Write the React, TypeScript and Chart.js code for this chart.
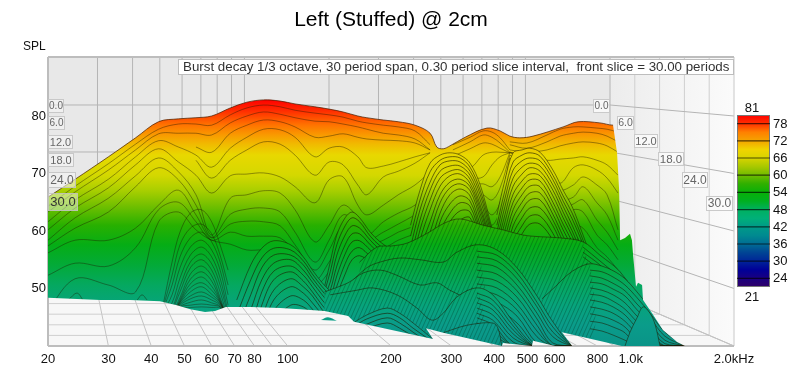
import React, { useEffect, useRef } from "react";
import { Chart, registerables } from "chart.js";

Chart.register(...registerables);

const xTickValues = [20, 30, 40, 50, 60, 70, 80, 100, 200, 300, 400, 500, 600, 800, 1000, 2000];
const xTickNames = ["20", "30", "40", "50", "60", "70", "80", "100", "200", "300", "400", "500", "600", "800", "1.0k", "2.0kHz"];
const yTickValues = [50, 60, 70, 80];
const wallFreqs = [30, 40, 50, 60, 70, 80, 90, 100, 200, 300, 400, 500, 600, 700, 800, 900, 1000];
const wallLevels = [50, 60, 70, 80];
const floorDepths = [0.2, 0.4, 0.6, 0.8];
const sliceNames = ["0.0", "6.0", "12.0", "18.0", "24.0", "30.0"];
const barLevels = [78, 72, 66, 60, 54, 48, 42, 36, 30, 24];

const surfaceStopSpl = [82.8, 81, 78.4, 76.7, 75, 73.2, 69.7, 67.1, 64.5, 61, 57.6, 54.1, 50.6, 47.1, 43.7, 40];
const surfaceStopColors = ["#ff0000", "#ff2a00", "#ff7400", "#f99a00", "#f0bc00", "#e8d800", "#d4d800", "#aacf00", "#74c000", "#28b000", "#05ad15", "#03aa38", "#05a860", "#07a47c", "#0a9c8a", "#0a9488"];
const barStopSpl = [81, 78, 75, 72, 69, 66, 63, 60, 57, 54, 51, 48, 45, 42, 39, 36, 33, 30, 27, 24, 21];
const barStopColors = ["#ff0000", "#ff3000", "#ff8000", "#f4a400", "#f0d400", "#d8d400", "#a8c800", "#70bc00", "#30b000", "#08b008", "#00b020", "#00b060", "#00b078", "#009a88", "#008a90", "#006c94", "#004494", "#002498", "#000098", "#1a0080", "#300068"];

// ridge at the back of the plot
const ridgeFreqs = [20, 24, 30, 36, 42, 48, 54, 60, 68, 76, 85, 95, 105, 120, 132, 145, 160, 170, 190, 210, 235, 260];
const ridgeTop = [65.9, 69.0, 72.9, 76.2, 79.0, 79.5, 79.7, 80.0, 81.4, 82.4, 82.8, 82.6, 82.1, 81.6, 81.2, 80.7, 80.0, 79.7, 79.3, 79.0, 78.4, 77.0];
const ridgeTailFreqs = [272, 284, 297, 329, 381, 416, 444, 475, 519, 635, 702, 813, 888, 1592];
const ridgeTailTop = [74.6, 74.3, 74.8, 76.3, 77.9, 77.4, 76.5, 76.2, 76.5, 78.1, 79.0, 78.8, 78.4, 78.4];

const sliceA1 = [64.3, 67.8, 71.7, 75.1, 77.7, 78.6, 78.6, 78.4, 80.2, 81.4, 81.9, 81.6, 81.0, 80.5, 80.2, 79.8, 79.1, 78.8, 78.4, 78.1, 77.4, 75.0];
const sliceA2 = [63.3, 66.8, 70.6, 74.1, 76.9, 77.0, 77.0, 76.7, 78.8, 80.0, 80.7, 80.3, 79.7, 79.1, 79.0, 78.6, 78.1, 77.7, 77.0, 76.7, 76.0, 74.1];
const sliceA3 = [61.6, 65.4, 69.0, 72.9, 75.7, 74.6, 73.2, 71.1, 74.4, 76.3, 77.7, 77.6, 76.3, 72.9, 74.4, 74.6, 72.9, 71.0, 71.3, 72.0, 72.9, 73.6];
const sliceA4 = [60.2, 64.0, 67.5, 71.5, 74.3, 72.0, 69.7, 66.6, 69.6, 69.9, 70.1, 69.4, 67.7, 64.9, 68.9, 69.4, 64.5, 62.8, 64.5, 66.3, 68.0, 70.3];
const sliceA5 = [58.4, 62.3, 65.7, 69.6, 72.7, 70.3, 66.3, 59.3, 65.7, 66.3, 67.0, 66.6, 63.7, 58.1, 61.0, 64.5, 62.3, 59.3, 61.6, 63.1, 64.5, 67.1];
const sliceA6 = [57.4, 60.5, 63.3, 67.7, 71.0, 68.9, 64.5, 58.9, 62.9, 63.8, 64.0, 63.3, 59.8, 54.6, 58.4, 62.8, 61.0, 58.4, 59.8, 61.2, 62.8, 64.5];
const sliceA7 = [56.2, 58.4, 58.4, 60.5, 64.5, 67.1, 62.8, 58.8, 61.2, 61.7, 61.6, 60.9, 57.6, 53.2, 56.7, 60.9, 59.8, 57.6, 58.4, 59.8, 60.9, 62.3];
const sliceA8 = [52.3, 54.4, 53.9, 57.1, 63.7, 65.0, 61.6, 58.4, 59.8, 59.1, 59.1, 58.8, 56.3, 51.5, 54.6, 58.4, 58.1, 56.7, 57.0, 58.4, 59.5, 60.5];
const sliceA9 = [46.3, 51.7, 50.6, 49.4, 61.6, 63.3, 60.2, 58.4, 57.7, 56.7, 56.7, 56.3, 54.6, 50.6, 52.9, 56.3, 56.7, 55.8, 55.8, 57.0, 58.4, 59.3];
const partFreqs = [54, 60, 68, 76, 85, 95, 105, 120, 132, 145, 160, 170, 190, 210, 235, 260];
const sliceB1 = [74.6, 73.7, 77.0, 78.4, 79.3, 79.0, 78.1, 76.3, 76.5, 76.9, 76.3, 76.0, 75.8, 75.7, 75.3, 74.1];
const sliceB2 = [72.3, 69.2, 72.3, 74.1, 75.5, 75.1, 73.2, 69.7, 72.0, 71.5, 68.0, 66.3, 69.4, 70.4, 71.8, 73.6];

const rightFreqs = [444, 498, 570, 622, 680, 726, 797, 853, 918];
const rightSlices = [
  [75.5, 75.3, 76.7, 77.7, 78.1, 78.1, 77.9, 77.7, 77.2],
  [75.0, 74.4, 75.5, 76.5, 77.0, 77.2, 77.0, 76.5, 75.5],
  [74.1, 73.7, 74.1, 74.8, 75.3, 75.5, 75.3, 74.8, 73.7],
  [73.7, 73.2, 72.3, 72.5, 72.7, 72.9, 72.3, 71.5, 69.7],
  [73.7, 72.7, 70.3, 68.3, 71.0, 71.5, 70.6, 69.2, 66.6],
  [73.6, 72.3, 68.9, 67.1, 68.0, 69.4, 68.0, 66.3, 60.2],
  [73.2, 71.5, 67.1, 65.4, 65.9, 67.7, 64.9, 62.8, 58.4],
  [72.7, 70.6, 65.4, 63.7, 64.7, 65.4, 61.9, 59.8, 56.7],
  [72.3, 69.7, 63.7, 61.9, 63.7, 63.3, 59.3, 57.6, 55.0],
  [71.5, 68.9, 61.9, 60.2, 61.0, 60.5, 57.1, 55.5, 53.2],
];
const lobeFreqs = [303, 340, 371, 394, 416, 444];
const lobeSlices = [
  [75, 76.3, 77.4, 77.2, 76.2, 74.1],
  [74.1, 75.5, 76.7, 76.3, 75.3, 73.7],
  [73, 74.3, 75.3, 75.1, 74.4, 73.6],
  [71.5, 71, 73.2, 73.7, 73.7, 73.6],
  [69.7, 69.2, 69.4, 71.5, 72.9, 73.6],
  [68, 68, 68.2, 67.7, 69.4, 73.6],
  [66.3, 67.1, 66.3, 65.4, 67.5, 73.2],
  [65.4, 65.7, 64.5, 62.8, 65, 72.7],
  [64.5, 64.5, 62.8, 61, 63.7, 70.6],
];

const hillAFreqs = [43.3, 46, 48.5, 52, 56, 60, 63.5, 67];
const hillASlices = [
  [47.1, 54.6, 59.8, 63.1, 63.7, 61.6, 57.6, 53.2],
  [46.6, 52.3, 57.6, 60.5, 61.2, 59.5, 55.8, 50.6],
  [46.3, 50.6, 55.5, 58.8, 59.8, 58.1, 54.6, 48.9],
  [45.9, 48.9, 53.6, 57.2, 58.4, 56.7, 53.2, 47.1],
  [45.6, 47.5, 51.8, 55.8, 57.2, 55.5, 51.8, 45.9],
  [45.2, 46.6, 50.3, 54.6, 56, 54.3, 50.6, 45.2],
  [44.9, 46.3, 49.4, 53.6, 55, 53.2, 49.4, 44.5],
  [44.9, 45.9, 48.4, 52.5, 53.9, 52.2, 48.4, 44.5],
  [44.9, 45.6, 48, 51.6, 52.9, 51.3, 48, 44.5],
  [44.9, 45.6, 47.8, 50.8, 52, 50.4, 47.8, 44.5],
  [44.9, 45.6, 47.6, 50.1, 51, 49.7, 47.6, 44.5],
  [44.9, 45.6, 47.5, 49.4, 50.3, 49, 47.5, 44.5],
  [44.9, 45.6, 47.3, 48.7, 49.4, 48.5, 47.3, 44.5],
  [44.9, 45.6, 47.1, 48.2, 48.7, 48, 47.1, 44.5],
  [44.9, 45.6, 46.9, 47.6, 48, 47.5, 46.9, 44.5],
  [44.9, 45.6, 46.8, 47.1, 47.3, 47.1, 46.8, 44.5],
  [44.9, 45.6, 46.6, 46.7, 46.8, 46.7, 46.6, 44.5],
];
const smallLobeFreqsA = [22.9, 24.3, 25.3];
const smallLobeA = [48, 49.2, 48];
const smallLobeFreqsB = [36.4, 37.6, 38.9];
const smallLobeB = [48, 48.9, 48];

const hillBFreqs = [228, 243, 260, 278, 297, 318, 340, 364, 389, 416];
const hillBTop = [61, 67.1, 71.8, 73.2, 73.6, 73.2, 71.8, 68, 61.7, 54.6];
const hillBSlices = [
  [59.1, 65.4, 70.3, 72.3, 72.9, 72.7, 71.1, 67.1, 61, 54.1],
  [57.2, 63.7, 68.5, 71.5, 72.2, 72, 70.4, 66.3, 60.2, 53.2],
  [55.3, 61.9, 67.1, 70.4, 71.3, 71.3, 69.7, 65.4, 59.3, 52.3],
  [53.4, 60.2, 65.4, 69.2, 70.4, 70.6, 69, 64.5, 58.4, 51.5],
  [51.5, 58.4, 63.7, 67.8, 69.6, 69.9, 68.3, 63.8, 57.7, 50.6],
  [49.6, 56.7, 61.6, 66.3, 68.5, 69, 67.7, 63, 56.9, 49.7],
  [47.7, 54.6, 59.8, 64.9, 67.5, 68.2, 67, 62.1, 56, 48.9],
  [45.9, 52.7, 57.6, 63.1, 66.3, 67.3, 66.1, 61, 55, 48],
  [44, 50.8, 55.3, 61.6, 64.7, 66.1, 65.2, 60, 53.9, 47.1],
  [42, 48.9, 53.2, 59.8, 63.1, 64.9, 64.3, 59, 52.9, 46.3],
  [40, 47, 51.1, 58.1, 61.6, 63.5, 63.3, 57.9, 51.8, 45.4],
  [40, 45.2, 49.4, 56.3, 59.8, 61.9, 62.3, 57.1, 50.8, 44.5],
];
const hillCFreqs = [407, 430, 454, 482, 508, 544, 593, 635, 675, 726, 771];
const hillCTop = [62.8, 68.9, 73.6, 74.1, 74.4, 73.7, 70.6, 67.1, 64.2, 59.3, 55];
const hillCSlices = [
  [61, 67.1, 72, 73.2, 73.6, 73, 69.7, 66.1, 63.1, 58.4, 54.1],
  [59.8, 65.7, 70.6, 72.2, 72.7, 72.2, 68.9, 65.2, 62.1, 57.6, 53.2],
  [58.4, 64.3, 69.2, 71.1, 71.8, 71.3, 68, 64.3, 61, 56.5, 52.3],
  [57.2, 62.9, 67.8, 69.9, 71, 70.4, 67.1, 63.3, 60, 55.6, 51.5],
  [56, 61.6, 66.4, 68.7, 69.9, 69.6, 66.1, 62.3, 59.1, 54.6, 50.6],
  [55, 60.2, 65, 67.5, 68.9, 68.7, 65, 61.2, 58.1, 53.6, 49.7],
  [53.9, 58.8, 63.7, 66.3, 67.8, 67.7, 64, 60.2, 57.1, 52.7, 48.9],
  [52.9, 57.4, 62.3, 65, 66.6, 66.6, 62.9, 59.1, 56, 51.8, 48],
  [51.8, 56, 60.9, 63.7, 65.4, 65.4, 61.9, 58.1, 55, 50.8, 47.1],
  [50.8, 54.6, 59.5, 62.3, 64, 64, 60.9, 57.1, 53.9, 49.9, 46.3],
  [49.7, 53.2, 58.1, 60.9, 62.6, 62.6, 59.6, 56, 52.9, 49, 45.4],
  [48.7, 51.8, 56.7, 59.5, 61.2, 61.2, 58.4, 55, 51.8, 48, 44.5],
];
const hillDFreqs = [127, 133, 139, 147, 154, 162, 174, 186, 201, 220];
const hillDTop = [49.4, 54.6, 59.3, 62.3, 63.3, 62.3, 59.8, 58.1, 56.7, 55.3];
const hillDSlices = [
  [48.7, 52.9, 57.6, 60.9, 62.3, 61.6, 59.1, 57.4, 56, 54.6],
  [48, 51.1, 55.8, 59.3, 60.9, 60.5, 58.4, 56.7, 55.3, 53.9],
  [47.3, 49.7, 53.9, 57.6, 59.5, 59.5, 57.6, 56, 54.6, 53.2],
  [46.6, 48.3, 52.2, 56, 58.1, 58.3, 56.7, 55.1, 53.9, 52.5],
  [45.9, 47.1, 50.4, 54.3, 56.5, 57.1, 55.6, 54.3, 53, 51.6],
  [45.2, 45.9, 48.9, 52.5, 55, 55.7, 54.6, 53.2, 52.2, 50.8],
];
const hillEFreqs = [71, 78, 84, 91, 102, 111, 118, 126, 133, 147];
const hillETop = [48, 54.1, 57, 58.3, 57.6, 55.5, 53.2, 51, 49.4, 44.5];
const hillESlices = [
  [45.4, 51.5, 55.3, 57, 56.7, 54.8, 52.5, 50.3, 48.7, 43.7],
  [42.8, 48.9, 53.6, 55.8, 55.8, 54.1, 51.8, 49.6, 47.8, 42.8],
  [40.2, 46.3, 51.5, 54.4, 55, 53.2, 51.1, 48.9, 47.1, 41.9],
  [40, 43.7, 49.4, 53, 53.9, 52.3, 50.3, 48, 46.3, 41],
  [40, 41, 47.1, 51.5, 52.9, 51.3, 49.4, 47.1, 45.4, 40.2],
  [40, 40, 44.9, 49.7, 51.7, 50.3, 48.7, 46.3, 44.5, 40],
  [40, 40, 42.8, 48, 50.3, 49.2, 47.5, 45.4, 43.7, 40],
  [40, 40, 40.7, 46.1, 48.7, 48, 46.4, 44.3, 42.8, 40],
  [40, 40, 40, 44.2, 47.1, 46.8, 45.4, 43.3, 41.9, 40],
];
const bandFFreqs = [162, 182, 201, 223, 255, 287, 318, 371, 424, 485, 544, 622, 726, 813, 931, 1086];
const bandFTop = [54.6, 57.2, 57.4, 57.9, 59.6, 61.4, 62.1, 61, 60.2, 59.3, 59, 58.8, 58.1, 55.8, 52.9, 47.1];
const bandFTailFreqs = [726, 813, 931, 1086, 1277];
const bandFSlices = [
  [57.2, 54.8, 51.7, 46.3, 41],
  [56.3, 54.1, 50.6, 45.4, 40],
  [55.5, 53.2, 49.7, 44.5, 40],
];
const hillGFreqs = [551, 602, 652, 702, 761, 824, 888, 962, 1043, 1138, 1258];
const hillGTop = [48.2, 50.3, 52.3, 53.6, 54.3, 53.9, 53.1, 51.7, 49.4, 46.6, 43.3];
const hillGTailFreqs = [761, 824, 888, 962, 1043, 1138, 1258, 1439];
const hillGSlices = [
  [53.2, 52.9, 52, 50.6, 48.4, 45.7, 42.4, 40],
  [52.2, 51.8, 50.9, 49.6, 47.3, 44.9, 41.7, 40],
  [51.1, 50.8, 49.9, 48.7, 46.3, 44, 41, 40],
  [50.1, 49.7, 48.9, 47.5, 45.2, 43.1, 40.4, 40],
  [49, 48.7, 47.8, 46.4, 44.2, 42.3, 40, 40],
  [48, 47.6, 46.8, 45.4, 43.1, 41.4, 40, 40],
  [46.8, 46.4, 45.7, 44.3, 42.1, 40.5, 40, 40],
  [45.6, 45.2, 44.5, 43.3, 41, 40, 40, 40],
  [44.3, 44, 43.3, 42.3, 40, 40, 40, 40],
  [43, 42.6, 41.9, 41, 40, 40, 40, 40],
];
const hillHFreqs = [150, 170, 186, 212, 243, 284, 311, 356];
const hillHTop = [50.6, 53.6, 54.6, 55.3, 55, 54.6, 56.3, 57.6];
const hillHTailFreqs = [356, 407, 466, 533, 593, 680, 761];
const hillHTailTop = [57.6, 56.7, 53.6, 48.7, 44.2, 40, 40];
const hillHSlices = [
  [56.5, 55.8, 52.7, 47.6, 43.3, 40, 40],
  [55.5, 54.8, 51.7, 46.8, 42.4, 40, 40],
  [54.4, 53.7, 50.6, 45.7, 41.6, 40, 40],
  [53.2, 52.5, 49.6, 44.7, 40.5, 40, 40],
  [52, 51.3, 48.5, 43.6, 40, 40, 40],
  [50.8, 50.1, 47.3, 42.6, 40, 40, 40],
  [49.6, 48.9, 46.3, 41.6, 40, 40, 40],
  [48.4, 47.6, 45.2, 40.5, 40, 40, 40],
  [47.1, 46.4, 44, 40, 40, 40, 40],
];
const bandIFreqs = [128, 150, 166, 186, 208, 243, 272, 297, 340];
const bandITop = [49.4, 51, 52.7, 53.2, 52.3, 50.6, 51, 49.7, 48];
const hillJFreqs = [133, 159, 177, 208, 238, 263, 284, 311, 356];
const hillJTop = [48.9, 49.7, 50.1, 48.9, 46.6, 44.5, 45.7, 48.5, 50.1];
const hillJTailFreqs = [356, 396, 454, 519, 562];
const hillJTailTop = [50.1, 48.9, 44.2, 40.2, 40];
const hillJSlices = [
  [49.2, 48, 43.5, 40, 40],
  [48.4, 47.1, 42.8, 40, 40],
  [47.5, 46.3, 42.1, 40, 40],
  [46.6, 45.4, 41.4, 40, 40],
  [45.7, 44.5, 40.7, 40, 40],
  [44.9, 43.7, 40, 40, 40],
  [44, 42.8, 40, 40, 40],
  [43.1, 41.9, 40, 40, 40],
];
const hillKFreqs = [157, 170, 195, 212, 232, 265];
const hillKTop = [44.2, 45.4, 46.6, 45.7, 44, 41.2];
const hillKSlices = [
  [43.5, 44.7, 45.7, 44.9, 43.1, 40.7],
  [42.8, 43.8, 44.9, 44, 42.4, 40],
  [42, 43, 44, 43.1, 41.7, 40],
];
const hillLFreqs = [284, 318, 347, 396, 410, 421];
const hillLTop = [42.3, 43.3, 43.8, 44, 43.1, 40];
const hillMFreqs = [962, 995, 1043, 1086, 1138, 1178, 1217];
const hillMTop = [40, 42.4, 44.9, 46.8, 45.7, 43.7, 40];
const islandFreqs = [125, 131, 139];
const islandTop = [44.5, 45, 44.4];

// lower and right outline of the surface (what stays empty around it)
const outlineFreqs = [20, 28.4, 34.7, 42.4, 47.5, 52, 57.4, 61.4, 66, 78, 95, 108.6, 128, 150, 156, 265, 253, 284, 421, 424, 515, 519, 602, 675, 630, 942, 1439, 1365, 1241, 1154, 1086, 1079, 1050, 1036, 1016, 1008, 995, 962, 931, 925, 912, 888, 888, 2000, 2000, 20];
const outlineSpl = [48.4, 48, 48, 47.8, 47.1, 46.4, 45.9, 46.1, 46.8, 46.8, 46.6, 46.4, 46.1, 45.2, 44.2, 41.2, 43.1, 42.3, 40, 40.5, 40, 40.9, 40, 40, 42.4, 40, 40, 40.7, 42.8, 45.7, 48, 50.6, 51, 50.3, 55.8, 58.4, 59.5, 58.8, 58.4, 67.1, 73.6, 78.4, 90.26, 90.26, 40, 40];

const FONT = "'Liberation Sans', Arial, sans-serif";
const Y_MIN = 40;
const Y_MAX = 90.26;
const CONTOUR = "rgba(30,25,0,0.6)";

type P = { x: number; y: number };
const pts = (fs: number[], vs: number[]): P[] => vs.slice(0, fs.length).map((v, i) => ({ x: fs[i], y: v }));
const closed = (d: P[]): P[] => [...d, { x: d[d.length - 1].x, y: Y_MIN }, { x: d[0].x, y: Y_MIN }];

// wall coordinates: where a (freq, level) at depth d appears on the front axes
const wall = (f: number, s: number, d: number): P => {
  const width = 562 + 124 * d;
  const backY = 105 + (80 - s) * 4.7;
  const frontY = 116 + (80 - s) * 5.75;
  const py = backY + (frontY - backY) * d;
  return { x: 20 * Math.pow(10, (Math.log10(f / 20) * width) / 686), y: 80 - (py - 116) / 5.75 };
};

export default function App() {
  const ref = useRef<HTMLCanvasElement | null>(null);
  useEffect(() => {
    const canvas = ref.current!;
    document.body.style.margin = "0";
    const tile = document.createElement("canvas");
    tile.width = 4;
    tile.height = 9;
    const tc = tile.getContext("2d")!;
    tc.strokeStyle = "rgba(0,40,20,0.42)";
    tc.lineWidth = 0.7;
    for (const o of [-4, 0, 4]) {
      tc.beginPath();
      tc.moveTo(o, 9);
      tc.lineTo(o + 4, 0);
      tc.stroke();
    }
    const ctx2d = canvas.getContext("2d")!;
    const hatch = ctx2d.createPattern(tile, "repeat");

    // the plot's vertical scale is fixed by the layout below
    const levelPixel = (s: number) => 116 + (80 - s) * 5.75;
    const top = levelPixel(surfaceStopSpl[0]);
    const bottom = levelPixel(40);
    const surfaceFill = ctx2d.createLinearGradient(0, top, 0, bottom);
    surfaceStopSpl.forEach((s, i) => surfaceFill.addColorStop((levelPixel(s) - top) / (bottom - top), surfaceStopColors[i]));
    const sideFill = ctx2d.createLinearGradient(610, 0, 734, 0);
    sideFill.addColorStop(0, "#ececec");
    sideFill.addColorStop(1, "#fbfbfb");

    const datasets: any[] = [];
    const base = { showLine: true, pointRadius: 0, spanGaps: true, tension: 0.35 };
    const addFill = (data: P[]) => datasets.push({ ...base, data, fill: "shape", backgroundColor: surfaceFill, borderWidth: 0 });
    const addHatch = (data: P[]) => datasets.push({ ...base, data, fill: "shape", backgroundColor: hatch, borderWidth: 0 });
    const addLine = (data: P[], width = 0.7, color = CONTOUR) => datasets.push({ ...base, data, fill: false, borderColor: color, borderWidth: width });
    const addLines = (fs: number[], list: number[][], width = 0.7) => list.forEach((v) => addLine(pts(fs, v), width));

    // back ridge
    const topEdge = [...pts(ridgeFreqs, ridgeTop), ...pts(ridgeTailFreqs, ridgeTailTop)];
    addFill(closed(topEdge));
    addLine(topEdge, 0.9, "rgba(70,30,0,0.8)");
    addLines(ridgeFreqs, [sliceA1, sliceA2, sliceA3, sliceA4, sliceA5, sliceA6, sliceA7, sliceA8, sliceA9]);
    addLines(partFreqs, [sliceB1, sliceB2]);
    addLines(rightFreqs, rightSlices);
    addLines(lobeFreqs, lobeSlices);
    addLine(pts(smallLobeFreqsA, smallLobeA));
    addLine(pts(smallLobeFreqsB, smallLobeB));
    addLines(hillAFreqs, hillASlices);

    // hills, back to front
    const hill = (fs: number[], topV: number[], list: number[][]) => {
      const edge = pts(fs, topV);
      addFill(closed(edge));
      addLines(fs, list, 1);
      addLine(edge, 0.9);
    };
    hill(hillBFreqs, hillBTop, hillBSlices);
    hill(hillCFreqs, hillCTop, hillCSlices);
    hill(hillDFreqs, hillDTop, hillDSlices);
    hill(hillEFreqs, hillETop, hillESlices);

    const bandF = pts(bandFFreqs, bandFTop);
    addFill(closed(bandF));
    addHatch(closed(bandF.slice(0, 13)));
    addLines(bandFTailFreqs, bandFSlices, 0.9);
    addLine(bandF, 0.9);

    const hillG = pts(hillGFreqs, hillGTop);
    addFill(closed(hillG));
    addHatch(closed(hillG.slice(0, 5)));
    addLines(hillGTailFreqs, hillGSlices, 0.9);
    addLine(hillG, 0.9);

    const hillH = [...pts(hillHFreqs, hillHTop), ...pts(hillHTailFreqs, hillHTailTop).slice(1)];
    addFill(closed(hillH));
    addHatch(closed(pts(hillHFreqs, hillHTop)));
    addLines(hillHTailFreqs, hillHSlices, 0.9);
    addLine(hillH, 0.9);

    const bandI = pts(bandIFreqs, bandITop);
    addFill(closed(bandI));
    addHatch(closed(bandI));
    addLine(bandI, 0.9);

    const hillJ = [...pts(hillJFreqs, hillJTop), ...pts(hillJTailFreqs, hillJTailTop).slice(1)];
    addFill(closed(hillJ));
    addHatch(closed(pts(hillJFreqs, hillJTop)));
    addLines(hillJTailFreqs, hillJSlices, 0.9);
    addLine(hillJ, 0.9);

    hill(hillKFreqs, hillKTop, hillKSlices);
    const hillL = pts(hillLFreqs, hillLTop);
    addFill(closed(hillL));
    addHatch(closed(hillL));
    addLine(hillL, 0.9);
    const hillM = pts(hillMFreqs, hillMTop);
    addFill(hillM);
    addLine(hillM, 0.9);

    // erase everything outside the surface outline
    datasets.push({ ...base, tension: 0, data: pts(outlineFreqs, outlineSpl), fill: "shape", backgroundColor: "#000", borderWidth: 0, composite: "destination-out" });
    const island = pts(islandFreqs, islandTop);
    datasets.push({ ...base, data: island, fill: "shape", backgroundColor: surfaceFill, borderWidth: 0, composite: "source-over" });

    // walls and floor, painted behind what is already there
    const wallLine = (data: P[], color = "#b4b4b4", width = 1) =>
      datasets.push({ ...base, tension: 0, data, fill: false, borderColor: color, borderWidth: width, composite: "destination-over", clip: 3 });
    const wallShape = (data: P[], color: any) =>
      datasets.push({ ...base, tension: 0, data, fill: "shape", backgroundColor: color, borderWidth: 0, composite: "destination-over" });
    wallLine([wall(20, Y_MAX, 1), wall(2000, Y_MAX, 1)], "#bdbdbd", 2);
    wallLine([wall(20, Y_MIN, 1), wall(2000, Y_MIN, 1)], "#bdbdbd", 2);
    wallLine([wall(20, Y_MIN, 1), wall(20, Y_MAX, 1)], "#bdbdbd", 2);
    wallLine([wall(2000, Y_MIN, 1), wall(2000, Y_MAX, 1)], "#c8c8c8", 1);
    [...wallFreqs, 2000].forEach((f) => {
      wallLine([wall(f, Y_MIN, 0), wall(f, Y_MAX, 0)]);
      wallLine([wall(f, Y_MIN, 0), wall(f, Y_MIN, 1)], "#c4c4c4");
    });
    wallLevels.forEach((s) => {
      wallLine([wall(20, s, 0), wall(2000, s, 0), wall(2000, s, 1)]);
    });
    wallLine([wall(2000, Y_MIN, 0), wall(2000, Y_MIN, 1)]);
    floorDepths.forEach((d) => {
      wallLine([wall(20, Y_MIN, d), wall(2000, Y_MIN, d)], "#cfcfcf");
      wallLine([wall(2000, Y_MIN, d), wall(2000, Y_MAX, d)], "#cfcfcf");
    });
    wallLine([wall(20, Y_MIN, 0), wall(2000, Y_MIN, 0)], "#cfcfcf");
    wallShape([wall(20, Y_MIN, 0), wall(2000, Y_MIN, 0), wall(2000, Y_MAX, 0), wall(20, Y_MAX, 0)], "#e8e8e8");
    wallShape([wall(2000, Y_MIN, 0), wall(2000, Y_MIN, 1), wall(2000, Y_MAX, 1), wall(2000, Y_MAX, 0)], sideFill);
    wallShape([wall(20, Y_MIN, 0), wall(2000, Y_MIN, 0), wall(2000, Y_MIN, 1), wall(20, Y_MIN, 1)], "#f7f7f7");

    datasets.forEach((d, i) => (d.order = -i));

    const compositor = {
      id: "compositor",
      afterDatasetDraw(chart: any, args: any) {
        const next = chart.data.datasets[args.index + 1];
        if (next && next.composite) chart.ctx.globalCompositeOperation = next.composite;
      },
      afterDatasetsDraw(chart: any) {
        chart.ctx.globalCompositeOperation = "source-over";
      },
    };

    const notes = {
      id: "notes",
      afterDraw(chart: any) {
        const c = chart.ctx;
        c.save();
        c.globalCompositeOperation = "source-over";
        c.textBaseline = "middle";
        // axis name
        c.fillStyle = "#111";
        c.font = `12px ${FONT}`;
        c.textAlign = "left";
        c.fillText("SPL", 23, 47);
        // caption box
        c.fillStyle = "#fff";
        c.fillRect(178, 59, 556, 16);
        c.strokeStyle = "#bdbdbd";
        c.lineWidth = 1;
        c.strokeRect(178.5, 59.5, 555, 15);
        c.fillStyle = "#333";
        c.font = `13.33px ${FONT}`;
        c.fillText("Burst decay 1/3 octave, 30 period span, 0.30 period slice interval,  front slice = 30.00 periods", 183, 67.5);
        // slice tags
        const tag = (t: string, x0: number, y0: number, x1: number, y1: number, size: number, ink: string, bg: string) => {
          c.fillStyle = bg;
          c.fillRect(x0, y0, x1 - x0, y1 - y0);
          c.strokeStyle = "rgba(190,190,190,0.8)";
          c.strokeRect(x0 + 0.5, y0 + 0.5, x1 - x0 - 1, y1 - y0 - 1);
          c.fillStyle = ink;
          c.font = `${size}px ${FONT}`;
          c.textAlign = "center";
          c.fillText(t, (x0 + x1) / 2, (y0 + y1) / 2 + 0.5);
        };
        const rightTags = [[593, 99, 610, 113], [617, 116, 634, 130], [634, 134, 658, 148], [658, 152, 684, 166], [682, 172, 708, 188], [706, 196, 733, 211]];
        const leftTags = [[48, 99, 64, 113], [48, 116, 65, 130], [48, 135, 73, 149], [48, 153, 74, 167], [48, 172, 76, 188], [48, 193, 78, 211]];
        const leftSizes = [10, 10, 11, 11, 12, 13];
        const rightSizes = [10, 10.5, 11, 11.5, 12, 12];
        sliceNames.forEach((t, i) => {
          const r = rightTags[i];
          tag(t, r[0], r[1], r[2], r[3], rightSizes[i], "#666", "rgba(250,250,250,0.85)");
          const l = leftTags[i];
          tag(t, l[0], l[1], l[2], l[3], leftSizes[i], i === 5 ? "#333" : "#666", i === 5 ? "rgba(255,255,255,0.45)" : "rgba(245,245,245,0.6)");
        });
        // colour bar
        const barTop = 115;
        const barBottom = 287;
        const barY = (v: number) => barTop + ((81 - v) / 60) * (barBottom - barTop);
        const g = c.createLinearGradient(0, barTop, 0, barBottom);
        barStopSpl.forEach((s, i) => g.addColorStop((81 - s) / 60, barStopColors[i]));
        c.fillStyle = g;
        c.fillRect(737, barTop, 33, barBottom - barTop);
        c.strokeStyle = "#777";
        c.strokeRect(737.5, barTop + 0.5, 32, barBottom - barTop - 1);
        c.fillStyle = "#111";
        c.font = `13px ${FONT}`;
        c.textAlign = "center";
        c.fillText("81", 752, 108);
        c.fillText("21", 752, 297);
        c.textAlign = "left";
        barLevels.forEach((v) => {
          c.strokeStyle = "rgba(0,0,0,0.65)";
          c.lineWidth = 1.2;
          c.beginPath();
          c.moveTo(737, barY(v));
          c.lineTo(770, barY(v));
          c.stroke();
          c.fillText(String(v), 773, barY(v) + 0.5);
        });
        c.restore();
      },
    };

    const chart = new Chart(canvas, {
      type: "scatter",
      data: { datasets },
      plugins: [compositor, notes],
      options: {
        responsive: false,
        animation: false,
        events: [],
        layout: { padding: { right: 66 } },
        plugins: {
          legend: { display: false },
          tooltip: { enabled: false },
          title: {
            display: true,
            text: "Left (Stuffed) @ 2cm",
            fullSize: false,
            color: "#000",
            font: { family: FONT, size: 21, weight: "normal", lineHeight: 1.2 },
            padding: { top: 7.5, bottom: 24.3 },
          },
        },
        scales: {
          x: {
            type: "logarithmic",
            min: 20,
            max: 2000,
            grid: { display: false, drawTicks: false },
            border: { display: false },
            afterBuildTicks: (a: any) => {
              a.ticks = xTickValues.map((value) => ({ value }));
            },
            afterFit: (a: any) => {
              a.height = 26;
            },
            ticks: {
              autoSkip: false,
              maxRotation: 0,
              padding: 6,
              color: "#111",
              font: { family: FONT, size: 13 },
              callback: (v: any) => xTickNames[xTickValues.indexOf(Number(v))] ?? "",
            },
          },
          y: {
            type: "linear",
            min: Y_MIN,
            max: Y_MAX,
            grid: { display: false, drawTicks: false },
            border: { display: false },
            afterBuildTicks: (a: any) => {
              a.ticks = yTickValues.map((value) => ({ value }));
            },
            afterFit: (a: any) => {
              a.width = 48;
            },
            ticks: { padding: 2, color: "#111", font: { family: FONT, size: 13 } },
          },
        },
      },
    } as any);
    return () => chart.destroy();
  }, []);
  return <canvas ref={ref} width={800} height={372} style={{ display: "block", position: "absolute", left: 0, top: 0 }} />;
}
